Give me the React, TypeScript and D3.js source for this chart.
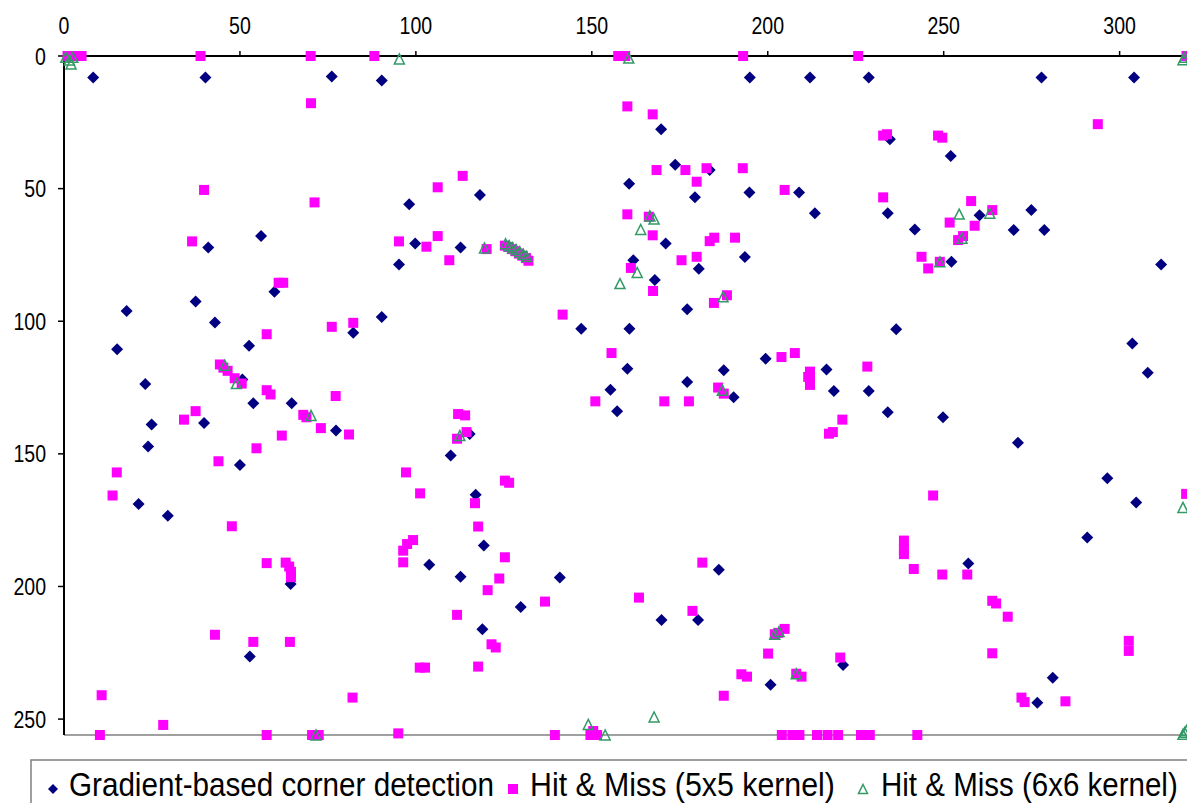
import React from "react";
import * as d3 from "d3";

const xTicks = [0, 50, 100, 150, 200, 250, 300];
const yTicks = [0, 50, 100, 150, 200, 250];

const seriesNames = [
  "Gradient-based corner detection",
  "Hit & Miss (5x5 kernel)",
  "Hit & Miss (6x6 kernel)",
];

const gradientPts: [number, number][] = [
  [8.3, 8.1], [40.2, 8.1], [76.1, 7.7], [90.3, 9.2], [194.9, 8.1], [212, 8.1], [228.7, 8.1], [277.8, 8.1], [304.1, 8.1],
  [98.1, 55.9], [41, 72.2], [56, 67.9], [99.8, 70.7], [95.2, 78.6],
  [169.7, 27.6], [173.7, 41], [183.5, 43], [160.6, 48.2], [179.3, 53.3], [194.8, 51.5], [208.9, 51.5], [118.2, 52.4],
  [171, 70.7], [193.5, 75.8], [180.4, 80.2], [161.8, 77], [167.9, 84.5], [112.7, 72.2],
  [234.7, 31.4], [252, 37.7], [213.4, 59.3], [234.1, 59.3], [260.2, 60], [241.8, 65.4], [269.9, 65.6], [278.6, 65.6],
  [274.9, 58.1], [252.2, 77.6], [311.8, 78.6],
  [59.8, 88.9], [17.8, 96.1], [37.4, 92.6], [42.9, 100.5], [15.1, 110.6], [52.6, 109.2], [90.3, 98.4], [82.2, 104.3],
  [50.7, 122], [53.8, 130.9], [64.7, 130.9], [23.1, 123.7], [24.9, 138.9], [23.9, 147.2], [39.8, 138.4], [77.3, 141.2],
  [50, 154.2], [21.2, 168.9], [29.5, 173.3], [64.4, 199.1], [103.8, 191.8], [52.8, 226.4],
  [177.1, 95.5], [147, 102.8], [160.7, 102.8], [160.1, 117.9], [155.3, 125.8], [157.2, 133.9], [177.1, 122.9],
  [187.5, 118.5], [190.3, 128.7], [199.4, 114.1], [115.3, 142.5], [109.9, 150.6], [117, 165.4],
  [119.3, 184.6], [112.7, 196.3], [140.9, 196.6], [129.8, 207.7], [118.9, 216.1], [186.1, 193.7], [169.8, 212.6],
  [180.2, 212.6], [200.8, 237.1],
  [304.7, 168.3], [290.8, 181.5], [257, 191.3], [281, 234.4], [276.6, 243.8], [221.4, 229.6],
  [236.5, 103], [303.6, 108.4], [308, 119.4], [216.7, 118.2], [218.8, 126.3], [228.7, 126.3], [234.1, 134.3],
  [249.8, 136.2], [271.1, 145.8], [296.5, 159.2],
];

const hitMiss5Pts: [number, number][] = [
  [1, 0], [3, 0], [5, 0], [38.8, 0], [70.1, 0], [88.2, 0], [157.5, 0], [159.5, 0], [193, 0], [225.7, 0], [319, 0],
  [70.2, 17.8], [39.8, 50.5], [71.2, 55.2], [36.4, 69.9], [95.2, 69.9], [103, 71.9], [61, 85.5], [62.3, 85.5],
  [160.1, 19], [167.3, 22], [168.4, 43], [176.6, 43], [182.6, 42.3], [179.8, 47.4], [192.9, 42.3], [204.8, 50.5],
  [113.3, 45.2], [106.2, 49.5], [160.1, 59.7], [166.2, 60.6], [167.3, 67.6], [184.8, 68.5], [183.5, 69.8],
  [190.7, 68.5], [175.5, 77], [179.8, 75.7], [161.1, 79.9], [106.2, 67.9], [109.5, 77], [120.1, 72.8],
  [125.3, 71.5], [126.3, 72], [127.3, 72.8], [128.3, 73.6], [129.3, 74.5], [130.3, 75.3], [131.3, 76.2], [132, 77.2],
  [293.8, 25.7], [232.8, 30], [233.9, 29.5], [248.4, 30], [249.6, 30.8], [232.8, 53.3], [257.8, 54.7], [263.8, 58.1],
  [251.7, 62.8], [258.8, 64], [254.1, 69.4], [255.5, 67.9], [243.7, 75.7], [245.6, 80.1], [248.9, 77.6],
  [57.6, 104.9], [76.1, 102.1], [82.2, 100.6], [44.3, 116.3], [45.3, 117.5], [46.5, 118.7], [48.5, 121.5],
  [50.5, 123.5], [57.6, 126], [58.7, 127.6], [77.2, 128.2], [37.4, 133.9], [34.1, 137.1], [68.9, 136.2], [68, 135.3],
  [73, 140.3], [81, 142.7], [61.9, 143.1], [54.7, 147.9], [43.9, 152.8], [15, 157], [13.8, 165.7], [97.2, 157],
  [101.2, 164.9],
  [47.7, 177.3], [57.6, 191.2], [63, 191], [64, 192.5], [64.5, 194.5], [64.5, 196.5], [96.4, 186.5], [96.4, 190.9],
  [99.2, 182.5], [97.5, 184], [42.9, 218.2], [53.8, 220.9], [64.2, 220.9], [101.1, 230.6], [102.6, 230.6],
  [10.7, 241], [82, 241.9], [28.2, 252.2], [10.2, 256], [57.6, 256], [70.5, 256], [72.4, 256], [95, 255.4],
  [167.4, 88.6], [184.7, 93.1], [188.4, 90.2], [141.7, 97.5], [155.6, 112], [151, 130.2], [170.6, 130.2],
  [177.6, 130.2], [185.9, 125], [187.5, 127.3], [203.9, 113.5], [207.7, 112], [211.5, 121], [112, 135], [114, 135.5],
  [114.4, 141.8], [111.7, 144.3], [125.3, 160.1], [126.5, 160.9], [116.8, 168.6],
  [117.7, 177.4], [125.3, 189], [123.7, 197], [120.4, 201.4], [136.7, 205.7], [111.7, 210.7], [121.5, 221.8],
  [122.7, 223], [117.7, 230.2], [181.4, 191], [163.4, 204.2], [178.6, 209.2], [202, 218], [203, 217.5], [204.8, 216],
  [200.1, 225.3], [192.5, 233.1], [194.1, 234], [187.5, 241.2], [208.1, 232.9], [150.4, 254.5], [149.6, 256],
  [151.5, 256], [139.5, 256], [204, 256], [207, 256], [209, 256], [214, 256], [217, 256], [220, 256], [226.5, 256],
  [229, 256], [242.5, 256],
  [238.7, 182.7], [238.7, 186], [238.7, 187.8], [241.5, 193.4], [249.6, 195.5], [256.7, 195.5], [263.8, 205.4],
  [264.9, 206.4], [268.2, 211.4], [263.8, 225.2], [302.6, 220.5], [302.6, 224.3], [272.1, 241.9], [273, 243.6],
  [284.6, 243.3], [220.6, 226.8], [209.6, 234],
  [212, 119], [212, 121.5], [212, 124], [228.3, 117.1], [221.2, 137.1], [217.4, 142.4], [218.5, 141.8], [247, 165.7],
  [318.9, 165.1],
];

const hitMiss6Pts: [number, number][] = [
  [0.5, 0.5], [1.5, 1.5], [2.5, 0.5], [2, 3], [95.3, 1.1], [160.5, 0.8], [318, 1.4], [318.5, 0.5],
  [119.5, 72.4], [125.5, 70.8], [126.5, 71.5], [127.5, 72.3], [128.5, 73], [129.5, 73.8], [130.5, 74.7], [131.5, 75.6],
  [167.7, 61.5], [166.5, 60.3], [163.9, 65.4], [162.9, 81.6], [158, 85.8], [187.3, 90.8], [187.1, 126],
  [45.7, 116.6], [49, 123.5], [70.2, 135.5], [112.5, 143.1],
  [202, 218], [203.2, 217], [208.1, 232.9], [167.7, 249.2], [149, 252], [153.8, 256], [71.6, 256],
  [318, 255.7], [318.5, 255], [319, 254.3], [318, 170.2],
  [254.4, 59.6], [263.1, 59.3], [255.2, 68.7], [248.9, 77.6],
];

const W = 1187;
const H = 803;
const FONT = "'Liberation Sans', Arial, sans-serif";
const NAVY = "#000080";
const PINK = "#FF00FF";
const GREEN = "#339966";

const diamond = (r: number) => `M0,${-r}L${r},0L0,${r}L${-r},0Z`;
const triangle = (r: number) => `M0,${-r}L${r},${r}L${-r},${r}Z`;

export default function App() {
  const x = d3.scaleLinear().domain([0, 320]).range([64, 1190]);
  const y = d3.scaleLinear().domain([0, 256]).range([56, 735]);

  const legendY = 789;
  const legendBase = 796;
  const legendFont = 34;

  return (
    <svg
      width={W}
      height={H}
      style={{ position: "absolute", left: 0, top: 0, background: "#fff" }}
      fontFamily={FONT}
    >
      <rect x={0} y={0} width={W} height={H} fill="#fff" />
      {/* plot border bottom (grey) */}
      <line x1={x(0)} x2={x(320)} y1={y(256)} y2={y(256)} stroke="#808080" strokeWidth={1.5} />
      <line x1={x(320)} x2={x(320)} y1={y(0)} y2={y(256)} stroke="#808080" strokeWidth={1.5} />
      {/* x axis on top */}
      <line x1={x(0)} x2={x(320)} y1={y(0)} y2={y(0)} stroke="#000" strokeWidth={2} />
      {xTicks.map((t) => (
        <g key={"xt" + t}>
          <line x1={x(t)} x2={x(t)} y1={y(0) - 5} y2={y(0)} stroke="#000" strokeWidth={1.5} />
          <text
            transform={`translate(${x(t)},34) scale(0.85,1)`}
            textAnchor="middle"
            fontSize={23}
            fill="#000"
          >
            {t}
          </text>
        </g>
      ))}
      {/* y axis on left */}
      <line x1={x(0)} x2={x(0)} y1={y(0)} y2={y(256)} stroke="#000" strokeWidth={2} />
      {yTicks.map((t) => (
        <g key={"yt" + t}>
          <line x1={x(0) - 6} x2={x(0)} y1={y(t)} y2={y(t)} stroke="#000" strokeWidth={1.5} />
          <text
            transform={`translate(46,${y(t) + 8.5}) scale(0.85,1)`}
            textAnchor="end"
            fontSize={23}
            fill="#000"
          >
            {t}
          </text>
        </g>
      ))}

      {/* series */}
      <g>
        {gradientPts.map(([a, b], i) => (
          <path key={"g" + i} d={diamond(6)} transform={`translate(${x(a)},${y(b)})`} fill={NAVY} />
        ))}
      </g>
      <g>
        {hitMiss5Pts.map(([a, b], i) => (
          <rect key={"p" + i} x={x(a) - 5} y={y(b) - 5} width={10} height={10} fill={PINK} />
        ))}
      </g>
      <g>
        {hitMiss6Pts.map(([a, b], i) => (
          <path
            key={"t" + i}
            d={triangle(5)}
            transform={`translate(${x(a)},${y(b)})`}
            fill="none"
            stroke={GREEN}
            strokeWidth={1.5}
          />
        ))}
      </g>

      {/* legend */}
      <rect x={31} y={760} width={1200} height={80} fill="none" stroke="#808080" strokeWidth={1.5} />
      <path d={diamond(5)} transform={`translate(53,${legendY})`} fill={NAVY} />
      <text
        transform={`translate(69,${legendBase}) scale(0.872,1)`}
        fontSize={legendFont}
        fill="#000"
      >
        {seriesNames[0]}
      </text>
      <rect x={508} y={legendY - 5} width={10} height={10} fill={PINK} />
      <text
        transform={`translate(530,${legendBase}) scale(0.892,1)`}
        fontSize={legendFont}
        fill="#000"
      >
        {seriesNames[1]}
      </text>
      <path d={triangle(4.5)} transform={`translate(863,${legendY})`} fill="none" stroke={GREEN} strokeWidth={1.5} />
      <text
        transform={`translate(881,${legendBase}) scale(0.868,1)`}
        fontSize={legendFont}
        fill="#000"
      >
        {seriesNames[2]}
      </text>
    </svg>
  );
}
